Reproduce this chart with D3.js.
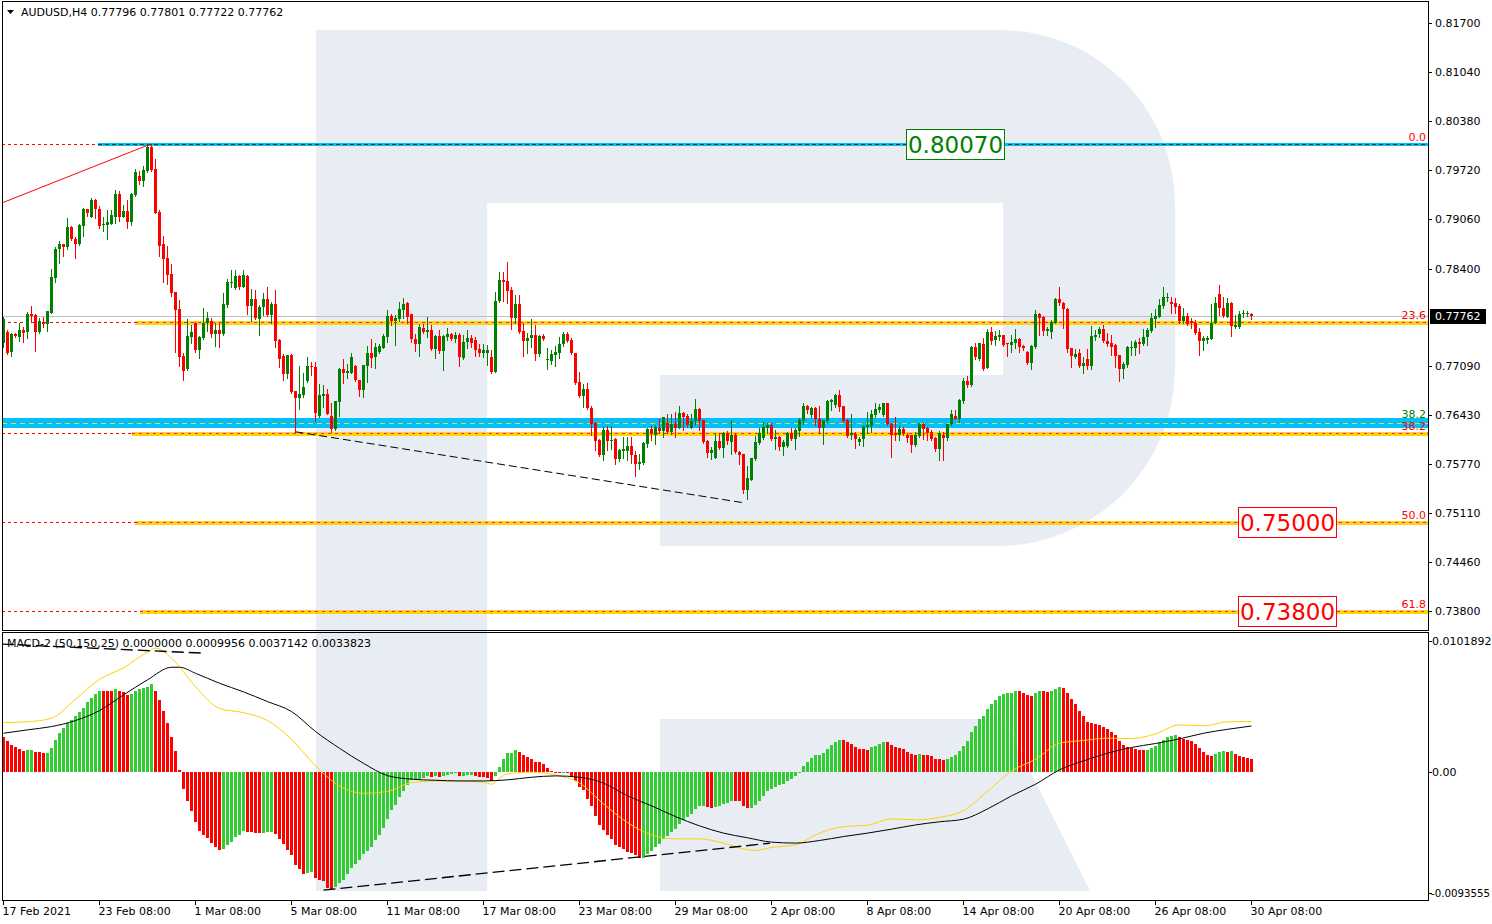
<!DOCTYPE html>
<html><head><meta charset="utf-8">
<script src="https://cdn.jsdelivr.net/npm/d3@7/dist/d3.min.js"></script>
<style>
html,body{margin:0;padding:0;background:#fff;}
svg{display:block;}
text{font-family:"DejaVu Sans",Verdana,sans-serif;}
</style></head>
<body><svg id="chart" width="1492" height="924"></svg>
<script>
// ---------------- DATA ----------------
const symbolTitle = "AUDUSD,H4  0.77796 0.77801 0.77722 0.77762";
const macdTitle = "MACD-2 (50,150,25) 0.0000000 0.0009956 0.0037142 0.0033823";

const opens = [
0.77395,0.77552,0.77283,0.77520,0.77484,0.77574,0.77543,0.77789,0.77776,0.77552,
0.77682,0.77659,0.77807,0.78277,0.78658,0.78730,0.78694,0.78958,0.78797,0.78734,
0.78976,0.79200,0.79097,0.79321,0.79200,0.78981,0.78990,0.79003,0.79093,0.79402,
0.79097,0.79173,0.79026,0.79393,0.79639,0.79577,0.79715,0.80029,0.79738,0.79160,
0.78730,0.78542,0.78327,0.78085,0.77856,0.77225,0.77054,0.77484,0.77673,0.77305,
0.77462,0.77664,0.77700,0.77520,0.77574,0.77520,0.77906,0.78206,0.78143,0.78304,
0.78156,0.78304,0.77897,0.77995,0.77726,0.77879,0.77991,0.77776,0.77923,0.77440,
0.77225,0.76987,0.77234,0.76754,0.76665,0.76700,0.76893,0.77090,0.77077,0.76418,
0.76691,0.76709,0.76418,0.76243,0.76606,0.77045,0.76991,0.77004,0.77090,0.76901,
0.76767,0.77094,0.77260,0.77206,0.77280,0.77336,0.77484,0.77762,0.77699,0.77717,
0.77842,0.77932,0.77788,0.77461,0.77385,0.77596,0.77542,0.77582,0.77318,0.77493,
0.77291,0.77480,0.77515,0.77461,0.77506,0.77193,0.77408,0.77470,0.77439,0.77318,
0.77269,0.77265,0.77215,0.77013,0.77963,0.78245,0.78232,0.78111,0.77739,0.77918,
0.77560,0.77430,0.77470,0.77506,0.77251,0.77493,0.77166,0.77161,0.77238,0.77269,
0.77385,0.77515,0.77439,0.77260,0.76879,0.76686,0.76776,0.76521,0.76328,0.76104,
0.75893,0.76230,0.76082,0.76117,0.75840,0.75952,0.75952,0.76014,0.75900,0.75772,
0.75790,0.76041,0.76243,0.76162,0.76265,0.76221,0.76328,0.76207,0.76310,0.76265,
0.76462,0.76418,0.76265,0.76355,0.76512,0.76364,0.76082,0.75925,0.75862,0.76082,
0.75996,0.76198,0.76073,0.76162,0.75938,0.75907,0.75423,0.75566,0.75840,0.76059,
0.76126,0.76265,0.76297,0.76108,0.76140,0.76005,0.76019,0.76198,0.76108,0.76221,
0.76355,0.76552,0.76431,0.76534,0.76386,0.76265,0.76355,0.76606,0.76565,0.76700,
0.76552,0.76364,0.76162,0.76176,0.76073,0.76108,0.76274,0.76283,0.76431,0.76507,
0.76431,0.76597,0.76319,0.76185,0.76162,0.76243,0.76162,0.76162,0.76028,0.76149,
0.76319,0.76265,0.76207,0.76126,0.75970,0.76171,0.76118,0.76310,0.76422,0.76377,
0.76619,0.76888,0.76834,0.77341,0.77179,0.77385,0.77067,0.77551,0.77439,0.77484,
0.77506,0.77394,0.77372,0.77403,0.77453,0.77359,0.77282,0.77135,0.77350,0.77789,
0.77753,0.77560,0.77551,0.77672,0.77986,0.77941,0.77851,0.77327,0.77215,0.77260,
0.77094,0.77179,0.77094,0.77484,0.77520,0.77583,0.77426,0.77403,0.77372,0.77238,
0.77045,0.77103,0.77336,0.77327,0.77417,0.77385,0.77475,0.77560,0.77717,0.77753,
0.77896,0.78008,0.77954,0.77941,0.77896,0.77699,0.77762,0.77699,0.77672,0.77551,
0.77430,0.77440,0.77453,0.77672,0.78057,0.77865,0.77753,0.77941,0.77618,0.77618,
0.77790,0.77798,0.77796];

const highs = [
0.77753,0.77574,0.77530,0.77538,0.77664,0.77619,0.77821,0.77897,0.77794,0.77740,
0.77753,0.77835,0.78394,0.78685,0.78770,0.78735,0.79079,0.78976,0.78820,0.78999,
0.79218,0.79205,0.79344,0.79330,0.79236,0.79097,0.79187,0.79187,0.79451,0.79442,
0.79258,0.79317,0.79415,0.79738,0.79706,0.79783,0.80060,0.80070,0.79868,0.79187,
0.78837,0.78703,0.78457,0.78090,0.77977,0.77260,0.77722,0.77641,0.77686,0.77498,
0.77870,0.77816,0.77731,0.77673,0.77673,0.78067,0.78255,0.78380,0.78380,0.78313,
0.78380,0.78310,0.78121,0.78112,0.77910,0.78067,0.78156,0.77955,0.78112,0.77448,
0.77247,0.77240,0.77247,0.76760,0.77090,0.77001,0.77216,0.77149,0.77149,0.76848,
0.76843,0.76776,0.76597,0.76625,0.77067,0.77184,0.77116,0.77260,0.77100,0.76910,
0.77110,0.77358,0.77448,0.77394,0.77390,0.77515,0.77842,0.77788,0.77775,0.77954,
0.77999,0.77945,0.77790,0.77515,0.77650,0.77654,0.77753,0.77641,0.77506,0.77582,
0.77506,0.77596,0.77538,0.77551,0.77529,0.77506,0.77573,0.77506,0.77484,0.77381,
0.77381,0.77370,0.77305,0.78089,0.78348,0.78357,0.78483,0.78156,0.78044,0.78044,
0.77663,0.77538,0.77717,0.77641,0.77506,0.77520,0.77340,0.77305,0.77358,0.77475,
0.77542,0.77542,0.77470,0.77265,0.77013,0.76848,0.76857,0.76552,0.76341,0.76110,
0.76274,0.76283,0.76280,0.76120,0.75983,0.76140,0.76140,0.76140,0.75945,0.75916,
0.76073,0.76252,0.76283,0.76297,0.76377,0.76409,0.76445,0.76445,0.76467,0.76552,
0.76476,0.76453,0.76453,0.76646,0.76521,0.76370,0.76095,0.76005,0.76185,0.76185,
0.76207,0.76216,0.76364,0.76194,0.75944,0.75916,0.75746,0.75862,0.76149,0.76252,
0.76341,0.76328,0.76328,0.76230,0.76145,0.76095,0.76203,0.76252,0.76265,0.76395,
0.76597,0.76565,0.76543,0.76543,0.76552,0.76365,0.76633,0.76655,0.76722,0.76767,
0.76560,0.76373,0.76453,0.76207,0.76140,0.76297,0.76476,0.76498,0.76601,0.76579,
0.76601,0.76600,0.76328,0.76409,0.76297,0.76274,0.76194,0.76165,0.76207,0.76328,
0.76328,0.76274,0.76230,0.76140,0.76216,0.76207,0.76319,0.76498,0.76498,0.76642,
0.76937,0.76955,0.77359,0.77403,0.77403,0.77462,0.77583,0.77609,0.77565,0.77574,
0.77510,0.77403,0.77506,0.77583,0.77462,0.77372,0.77291,0.77372,0.77842,0.77807,
0.77758,0.77609,0.77708,0.77999,0.78156,0.77954,0.77865,0.77330,0.77314,0.77314,
0.77206,0.77314,0.77627,0.77574,0.77618,0.77641,0.77538,0.77506,0.77385,0.77240,
0.77148,0.77359,0.77430,0.77439,0.77462,0.77583,0.77596,0.77807,0.77851,0.77986,
0.78156,0.78066,0.78022,0.77999,0.77919,0.77865,0.77807,0.77730,0.77708,0.77596,
0.77493,0.77493,0.77923,0.78013,0.78178,0.78022,0.78008,0.77954,0.77775,0.77833,
0.77842,0.77830,0.77801];

const lows = [
0.77350,0.77251,0.77229,0.77484,0.77431,0.77408,0.77462,0.77686,0.77296,0.77529,
0.77619,0.77565,0.77800,0.78224,0.78479,0.78569,0.78658,0.78784,0.78546,0.78716,
0.78837,0.79106,0.79088,0.79079,0.78940,0.78905,0.78802,0.78994,0.79012,0.79034,
0.79088,0.78949,0.78990,0.79375,0.79536,0.79514,0.79693,0.79715,0.79145,0.78573,
0.78224,0.78192,0.78035,0.77283,0.77090,0.76902,0.77040,0.77395,0.77283,0.77193,
0.77450,0.77565,0.77484,0.77363,0.77341,0.77510,0.77888,0.78156,0.78121,0.78121,
0.78150,0.77789,0.77700,0.77726,0.77507,0.77776,0.77770,0.77664,0.77350,0.77081,
0.76902,0.76924,0.76732,0.76208,0.76508,0.76678,0.76880,0.76969,0.76351,0.76408,
0.76543,0.76444,0.76207,0.76235,0.76422,0.76857,0.76924,0.77000,0.76890,0.76686,
0.76677,0.76879,0.77081,0.77067,0.77260,0.77327,0.77417,0.77641,0.77372,0.77699,
0.77730,0.77663,0.77417,0.77296,0.77224,0.77529,0.77484,0.77310,0.77202,0.77269,
0.77036,0.77439,0.77439,0.77417,0.77090,0.77180,0.77327,0.77350,0.77224,0.77224,
0.77206,0.77110,0.76991,0.77005,0.77950,0.77963,0.77941,0.77587,0.77663,0.77540,
0.77228,0.77269,0.77350,0.77170,0.77228,0.77440,0.77045,0.77112,0.77090,0.77193,
0.77358,0.77417,0.77247,0.76848,0.76677,0.76543,0.76510,0.76162,0.75961,0.75880,
0.75826,0.75961,0.75980,0.75781,0.75817,0.75850,0.75826,0.75790,0.75616,0.75705,
0.75781,0.76005,0.76104,0.76050,0.76185,0.76140,0.76194,0.76176,0.76140,0.76252,
0.76230,0.76274,0.76252,0.76297,0.76230,0.76059,0.75871,0.75840,0.75850,0.75970,
0.75871,0.76050,0.75916,0.75929,0.75781,0.75392,0.75302,0.75557,0.75826,0.76050,
0.76117,0.76185,0.76100,0.75974,0.75961,0.75893,0.76005,0.76095,0.75974,0.76153,
0.76310,0.76462,0.76409,0.76297,0.76185,0.76050,0.76341,0.76498,0.76543,0.76490,
0.76341,0.76139,0.76108,0.75992,0.76028,0.76019,0.76185,0.76207,0.76409,0.76467,
0.76422,0.76297,0.75871,0.76095,0.76104,0.76162,0.76073,0.75938,0.76019,0.76140,
0.76108,0.76095,0.76095,0.75952,0.75835,0.75826,0.76095,0.76297,0.76373,0.76342,
0.76597,0.76803,0.76821,0.77179,0.77170,0.77036,0.77060,0.77385,0.77372,0.77439,
0.77359,0.77224,0.77282,0.77327,0.77282,0.77305,0.77112,0.77054,0.77340,0.77506,
0.77506,0.77506,0.77471,0.77663,0.77910,0.77596,0.77282,0.77081,0.77193,0.77081,
0.76991,0.77045,0.77058,0.77439,0.77484,0.77417,0.77359,0.77238,0.77081,0.76893,
0.76924,0.77072,0.77238,0.77238,0.77260,0.77372,0.77372,0.77551,0.77610,0.77750,
0.77865,0.77968,0.77798,0.77798,0.77672,0.77672,0.77641,0.77596,0.77520,0.77238,
0.77305,0.77394,0.77450,0.77663,0.77775,0.77753,0.77750,0.77493,0.77596,0.77596,
0.77750,0.77760,0.77722];

const closes = [
0.77722,0.77269,0.77520,0.77498,0.77574,0.77538,0.77789,0.77767,0.77552,0.77695,
0.77659,0.77825,0.78291,0.78667,0.78730,0.78685,0.78958,0.78793,0.78734,0.78985,
0.79200,0.79151,0.79321,0.79196,0.78976,0.79003,0.79026,0.79120,0.79402,0.79097,
0.79173,0.79030,0.79402,0.79693,0.79577,0.79724,0.80029,0.79724,0.79151,0.78703,
0.78528,0.78318,0.78076,0.77843,0.77216,0.77027,0.77493,0.77552,0.77305,0.77484,
0.77673,0.77731,0.77520,0.77574,0.77520,0.77923,0.78219,0.78219,0.78304,0.78156,
0.78313,0.77897,0.77995,0.77740,0.77883,0.77991,0.77776,0.77923,0.77431,0.77189,
0.76987,0.77234,0.76745,0.76665,0.76709,0.76803,0.77090,0.77072,0.76463,0.76700,
0.76709,0.76453,0.76243,0.76619,0.77054,0.76991,0.77022,0.77206,0.76901,0.76767,
0.77103,0.77260,0.77193,0.77349,0.77355,0.77497,0.77762,0.77699,0.77730,0.77856,
0.77923,0.77753,0.77453,0.77385,0.77610,0.77542,0.77582,0.77318,0.77493,0.77291,
0.77493,0.77515,0.77461,0.77506,0.77206,0.77417,0.77470,0.77394,0.77305,0.77269,
0.77305,0.77305,0.77013,0.77963,0.78245,0.78214,0.78098,0.77739,0.77918,0.77551,
0.77430,0.77470,0.77506,0.77251,0.77493,0.77448,0.77179,0.77247,0.77282,0.77385,
0.77515,0.77430,0.77260,0.76866,0.76686,0.76776,0.76521,0.76319,0.76086,0.75893,
0.76230,0.76082,0.76104,0.75840,0.75961,0.75974,0.76014,0.75900,0.75772,0.75804,
0.76059,0.76243,0.76176,0.76274,0.76221,0.76400,0.76207,0.76310,0.76265,0.76462,
0.76409,0.76297,0.76355,0.76512,0.76355,0.76073,0.75925,0.75961,0.76082,0.75996,
0.76198,0.76086,0.76162,0.75938,0.75893,0.75423,0.75589,0.75849,0.76073,0.76185,
0.76274,0.76297,0.76108,0.76140,0.76005,0.76064,0.76198,0.76108,0.76229,0.76364,
0.76552,0.76498,0.76534,0.76377,0.76265,0.76364,0.76619,0.76633,0.76700,0.76543,
0.76355,0.76153,0.76185,0.76108,0.76117,0.76283,0.76297,0.76444,0.76512,0.76543,
0.76597,0.76310,0.76162,0.76162,0.76243,0.76176,0.76131,0.76028,0.76162,0.76319,
0.76239,0.76194,0.76108,0.75974,0.76198,0.76118,0.76310,0.76445,0.76377,0.76633,
0.76888,0.76834,0.77350,0.77215,0.77394,0.77049,0.77551,0.77426,0.77493,0.77506,
0.77372,0.77381,0.77417,0.77453,0.77350,0.77327,0.77135,0.77359,0.77789,0.77739,
0.77560,0.77583,0.77686,0.77986,0.77932,0.77851,0.77314,0.77224,0.77251,0.77094,
0.77135,0.77094,0.77493,0.77506,0.77583,0.77426,0.77385,0.77350,0.77224,0.77058,
0.77117,0.77350,0.77350,0.77417,0.77385,0.77475,0.77574,0.77739,0.77762,0.77910,
0.78022,0.78022,0.77923,0.77887,0.77699,0.77762,0.77654,0.77663,0.77538,0.77430,
0.77462,0.77462,0.77672,0.77932,0.77865,0.77762,0.77941,0.77627,0.77641,0.77789,
0.77798,0.77805,0.77762];

// MACD-2 histogram (one value per bar)
const macdHist = [
0.00256,0.00229,0.00197,0.00185,0.00170,0.00158,0.00161,0.00162,0.00147,0.00145,
0.00142,0.00143,0.00176,0.00237,0.00290,0.00327,0.00358,0.00383,0.00410,0.00442,
0.00471,0.00515,0.00544,0.00576,0.00597,0.00593,0.00592,0.00591,0.00607,0.00597,
0.00585,0.00568,0.00571,0.00591,0.00607,0.00615,0.00627,0.00644,0.00597,0.00527,
0.00449,0.00358,0.00256,0.00156,0.00015,-0.00122,-0.00210,-0.00283,-0.00361,-0.00427,
-0.00459,-0.00483,-0.00519,-0.00551,-0.00568,-0.00563,-0.00534,-0.00512,-0.00474,-0.00463,
-0.00431,-0.00436,-0.00437,-0.00446,-0.00447,-0.00442,-0.00436,-0.00435,-0.00456,-0.00488,
-0.00524,-0.00568,-0.00607,-0.00678,-0.00712,-0.00744,-0.00739,-0.00734,-0.00776,-0.00790,
-0.00795,-0.00849,-0.00852,-0.00844,-0.00812,-0.00788,-0.00744,-0.00703,-0.00671,-0.00641,
-0.00597,-0.00580,-0.00544,-0.00500,-0.00459,-0.00405,-0.00344,-0.00275,-0.00239,-0.00178,
-0.00141,-0.00093,-0.00056,-0.00049,-0.00047,-0.00039,-0.00027,-0.00037,-0.00027,-0.00037,
-0.00027,-0.00020,-0.00015,-0.00009,-0.00027,-0.00026,-0.00022,-0.00020,-0.00027,-0.00032,
-0.00037,-0.00044,-0.00068,-0.00027,0.00041,0.00097,0.00139,0.00140,0.00161,0.00146,
0.00127,0.00114,0.00097,0.00073,0.00072,0.00059,0.00029,0.00009,-0.00005,-0.00007,
-0.00006,-0.00008,-0.00032,-0.00068,-0.00105,-0.00129,-0.00195,-0.00251,-0.00319,-0.00386,
-0.00422,-0.00459,-0.00490,-0.00532,-0.00544,-0.00559,-0.00583,-0.00592,-0.00609,-0.00630,
-0.00627,-0.00597,-0.00580,-0.00548,-0.00524,-0.00488,-0.00466,-0.00439,-0.00415,-0.00378,
-0.00349,-0.00325,-0.00307,-0.00271,-0.00246,-0.00245,-0.00256,-0.00263,-0.00256,-0.00251,
-0.00234,-0.00227,-0.00210,-0.00211,-0.00212,-0.00246,-0.00263,-0.00261,-0.00239,-0.00210,
-0.00173,-0.00141,-0.00122,-0.00105,-0.00093,-0.00085,-0.00064,-0.00049,-0.00027,0.00005,
0.00047,0.00076,0.00102,0.00124,0.00125,0.00139,0.00168,0.00197,0.00220,0.00234,
0.00233,0.00219,0.00205,0.00183,0.00168,0.00167,0.00166,0.00183,0.00190,0.00205,
0.00220,0.00219,0.00197,0.00183,0.00176,0.00168,0.00146,0.00132,0.00124,0.00132,
0.00124,0.00123,0.00117,0.00095,0.00094,0.00088,0.00095,0.00110,0.00124,0.00154,
0.00193,0.00227,0.00293,0.00337,0.00388,0.00412,0.00461,0.00500,0.00527,0.00561,
0.00573,0.00578,0.00583,0.00592,0.00591,0.00578,0.00563,0.00556,0.00578,0.00592,
0.00591,0.00590,0.00593,0.00607,0.00622,0.00615,0.00578,0.00534,0.00498,0.00446,
0.00410,0.00371,0.00358,0.00354,0.00346,0.00334,0.00314,0.00293,0.00271,0.00227,
0.00197,0.00183,0.00176,0.00168,0.00161,0.00160,0.00162,0.00176,0.00190,0.00212,
0.00234,0.00256,0.00263,0.00271,0.00254,0.00246,0.00234,0.00227,0.00205,0.00176,
0.00146,0.00124,0.00117,0.00132,0.00146,0.00154,0.00146,0.00154,0.00132,0.00117,
0.00110,0.00102,0.0009956];

// MACD-2 lines (sampled bars)
const yellowIdx = [0,6,12,18,24,30,36,38,42,48,54,60,66,72,78,84,90,96,102,108,114,120,122,124,126,132,138,144,150,156,162,168,174,180,186,188,192,198,204,210,216,222,228,234,240,246,252,258,264,270,276,282,288,294,300,306,312];
const yellowVal = [0.00363,0.00369,0.00395,0.00534,0.00680,0.00764,0.00880,0.00908,0.00834,0.00627,0.00466,0.00436,0.00378,0.00241,0.00047,-0.00100,-0.00154,-0.00141,-0.00076,-0.00064,-0.00064,-0.00073,-0.00088,-0.00044,-0.00012,0.00000,-0.00020,-0.00080,-0.00232,-0.00369,-0.00459,-0.00488,-0.00488,-0.00519,-0.00568,-0.00573,-0.00551,-0.00532,-0.00446,-0.00398,-0.00388,-0.00342,-0.00349,-0.00331,-0.00281,-0.00141,0.00009,0.00095,0.00212,0.00232,0.00249,0.00246,0.00281,0.00346,0.00339,0.00369,0.0037142];
const blackIdx = [0,6,12,18,24,30,36,42,44,48,54,60,66,72,78,84,90,96,102,108,114,120,126,132,138,144,150,156,162,168,174,180,186,192,198,204,210,216,222,228,234,240,246,252,258,264,270,276,282,288,294,300,306,312];
const blackVal = [0.00285,0.00310,0.00334,0.00378,0.00451,0.00566,0.00676,0.00768,0.00768,0.00724,0.00651,0.00588,0.00517,0.00444,0.00298,0.00175,0.00065,-0.00025,-0.00051,-0.00059,-0.00064,-0.00064,-0.00056,-0.00037,-0.00027,-0.00037,-0.00080,-0.00173,-0.00246,-0.00325,-0.00393,-0.00446,-0.00480,-0.00512,-0.00519,-0.00500,-0.00471,-0.00446,-0.00417,-0.00386,-0.00363,-0.00344,-0.00269,-0.00173,-0.00088,0.00017,0.00083,0.00139,0.00181,0.00210,0.00244,0.00285,0.00314,0.0033823];

// axis labels
const priceTicks = [0.81700,0.81040,0.80380,0.79720,0.79060,0.78400,0.77090,0.76430,0.75770,0.75110,0.74460,0.73800];
const macdTicks = [0.0101892,0.0,-0.0093555];
const macdTickLabels = ["0.0101892","0.00","-0.0093555"];
const timeIdx = [0,24,48,72,96,120,144,168,192,216,240,264,288,312];
const timeLabels = ["17 Feb 2021","23 Feb 08:00","1 Mar 08:00","5 Mar 08:00","11 Mar 08:00","17 Mar 08:00","23 Mar 08:00","29 Mar 08:00","2 Apr 08:00","8 Apr 08:00","14 Apr 08:00","20 Apr 08:00","26 Apr 08:00","30 Apr 08:00"];

// objects
const bidPrice = 0.77762;
const fibPrices = [0.80070,0.77677,0.76197,0.75000,0.73804];
const fibNames = ["0.0","23.6","38.2","50.0","61.8"];
const fib2Price = 0.76326, fib2Name = "38.2";
const targetLabels = ["0.80070","0.75000","0.73800"];
const targetPrices = [0.80070,0.75000,0.73800];
const redTrend = [[-0.4,0.79282],[36.6,0.80070]];
const blackTrend = [[73,0.76208],[185.4,0.75251]];
const macdTrend1 = [[-0.4,0.00937],[50.4,0.00871]];
const macdTrend2 = [[80,-0.00864],[191.6,-0.00520]];

// ---------------- DRAW ----------------
const svg = d3.select('#chart');
const N = closes.length;
const x = d3.scaleLinear().domain([0,312]).range([3.5,1251.5]);
const y = d3.scaleLinear().domain([0.738,0.817]).range([611,23]);
const ym = d3.scaleLinear().domain([-0.0093555,0.0101892]).range([900,633]);
const L=2, R=1428;

const defs = svg.append('defs');
defs.append('clipPath').attr('id','cm').append('rect').attr('x',L).attr('y',2).attr('width',R-L).attr('height',628);
defs.append('clipPath').attr('id','cd').append('rect').attr('x',L).attr('y',633).attr('width',R-L).attr('height',267);

svg.append('rect').attr('width',1492).attr('height',924).attr('fill','#fff');

// watermark logo
const logo = svg.append('g').attr('fill','#e8edf4');
logo.append('path').attr('d','M316,30 H1000 A175,175 0 0 1 1175,205 V371 A178,178 0 0 1 1000,546 H660 V375 H1003 V203 H487 V891 H316 Z');
logo.append('path').attr('d','M660,719 H1004 L1090,891 H660 Z');

// ---- main panel objects
const gm = svg.append('g').attr('clip-path','url(#cm)');
// bid line
gm.append('line').attr('x1',L).attr('x2',R).attr('y1',Math.round(y(bidPrice))+0.5).attr('y2',Math.round(y(bidPrice))+0.5).attr('stroke','#c0c0c0');
// fib levels
const fibStart = [98,135,132,135,140];
fibPrices.forEach((p,k)=>{
  const yy = Math.round(y(p))+0.5;
  gm.append('line').attr('x1',L).attr('x2',fibStart[k]).attr('y1',yy).attr('y2',yy).attr('stroke','#ff0000').attr('stroke-dasharray','3,3');
  if(k===0){
    gm.append('line').attr('x1',fibStart[k]).attr('x2',R).attr('y1',yy).attr('y2',yy).attr('stroke','#00bfff').attr('stroke-width',3);
    gm.append('line').attr('x1',fibStart[k]).attr('x2',R).attr('y1',yy).attr('y2',yy).attr('stroke','#1a3a2a').attr('stroke-dasharray','4,3');
  } else {
    gm.append('rect').attr('x',fibStart[k]).attr('width',R-fibStart[k]).attr('y',yy-2).attr('height',4).attr('fill','#ffd700').attr('shape-rendering','crispEdges');
    gm.append('line').attr('x1',fibStart[k]).attr('x2',R).attr('y1',yy).attr('y2',yy).attr('stroke','#ff00ff').attr('stroke-dasharray','3,4').attr('shape-rendering','crispEdges');
  }
});
// second fib level (blue band)
{
  const yy = y(fib2Price);
  gm.append('rect').attr('x',L).attr('width',R-L).attr('y',Math.round(yy)-5).attr('height',10).attr('fill','#00bfff');
  gm.append('line').attr('x1',L).attr('x2',R).attr('y1',Math.round(yy)+0.5).attr('y2',Math.round(yy)+0.5).attr('stroke','#ffd700').attr('stroke-dasharray','5,4');
}
// trend lines
gm.append('line').attr('x1',x(redTrend[0][0])).attr('y1',y(redTrend[0][1])).attr('x2',x(redTrend[1][0])).attr('y2',y(redTrend[1][1])).attr('stroke','#ff0000').attr('stroke-width',1);
gm.append('line').attr('x1',x(blackTrend[0][0])).attr('y1',y(blackTrend[0][1])).attr('x2',x(blackTrend[1][0])).attr('y2',y(blackTrend[1][1])).attr('stroke','#000').attr('stroke-dasharray','8,4');

// candles
const idx = d3.range(N);
const cg = gm.append('g').attr('shape-rendering','crispEdges');
cg.selectAll('line.w').data(idx).join('line').attr('class','w')
  .attr('x1',i=>x(i)).attr('x2',i=>x(i))
  .attr('y1',i=>Math.round(y(highs[i]))).attr('y2',i=>Math.round(y(lows[i]))+1)
  .attr('stroke',i=>closes[i]>=opens[i]?'#008000':'#ff0000');
cg.selectAll('rect.b').data(idx).join('rect').attr('class','b')
  .attr('x',i=>x(i)-1.5).attr('width',3)
  .attr('y',i=>Math.round(y(Math.max(opens[i],closes[i]))))
  .attr('height',i=>Math.max(1,Math.round(y(Math.min(opens[i],closes[i])))-Math.round(y(Math.max(opens[i],closes[i])))))
  .attr('fill',i=>closes[i]>=opens[i]?'#008000':'#ff0000');

// ---- MACD panel
const gd = svg.append('g').attr('clip-path','url(#cd)');
const hg = gd.append('g').attr('shape-rendering','crispEdges');
const z0 = Math.round(ym(0));
hg.selectAll('rect').data(idx).join('rect')
  .attr('x',i=>x(i)-1.5).attr('width',3)
  .attr('y',i=>macdHist[i]>=0?Math.round(ym(macdHist[i])):z0)
  .attr('height',i=>Math.max(1,Math.abs(z0-Math.round(ym(macdHist[i])))))
  .attr('fill',i=>(i>0 && macdHist[i]>macdHist[i-1])?'#32cd32':'#ff0000');
const lineGen = (ix,vals)=>d3.line().x((d,k)=>x(ix[k])).y(d=>ym(d)).curve(d3.curveMonotoneX)(vals);
gd.append('path').attr('d',lineGen(yellowIdx,yellowVal)).attr('fill','none').attr('stroke','#ffd000').attr('stroke-width',1);
gd.append('path').attr('d',lineGen(blackIdx,blackVal)).attr('fill','none').attr('stroke','#000').attr('stroke-width',1);
[macdTrend1,macdTrend2].forEach(t=>{
  gd.append('line').attr('x1',x(t[0][0])).attr('y1',ym(t[0][1])).attr('x2',x(t[1][0])).attr('y2',ym(t[1][1])).attr('stroke','#000').attr('stroke-width',1.3).attr('stroke-dasharray','12,5');
});

// ---- frames
svg.append('rect').attr('x',L+0.5).attr('y',1.5).attr('width',R-L).attr('height',629).attr('fill','none').attr('stroke','#000');
svg.append('rect').attr('x',L+0.5).attr('y',632.5).attr('width',R-L).attr('height',268).attr('fill','none').attr('stroke','#000');

// ---- price axis
const ax = svg.append('g');
priceTicks.forEach(p=>{
  const yy=Math.round(y(p))+0.5;
  ax.append('line').attr('x1',R).attr('x2',R+4).attr('y1',yy).attr('y2',yy).attr('stroke','#000');
  ax.append('text').attr('x',1435).attr('y',yy).attr('dy','0.36em').attr('font-size',11).attr('fill','#000').text(p.toFixed(5));
});
{
  const yy=Math.round(y(bidPrice));
  ax.append('rect').attr('x',1430).attr('y',yy-7).attr('width',56).attr('height',15).attr('fill','#000');
  ax.append('text').attr('x',1435).attr('y',yy+0.5).attr('dy','0.36em').attr('font-size',11).attr('fill','#fff').text(bidPrice.toFixed(5));
}
// macd axis
macdTicks.forEach((v,k)=>{
  const yy = k===0?641:(k===2?893:Math.round(ym(v)));
  ax.append('line').attr('x1',R).attr('x2',R+4).attr('y1',yy+0.5).attr('y2',yy+0.5).attr('stroke','#000');
  const t = ax.append('text').attr('x',1432).attr('y',yy).attr('dy','0.36em').attr('font-size',11).attr('fill','#000').text(macdTickLabels[k]);
  if(k===2) t.attr('x',1431).attr('font-size',10).attr('textLength',59).attr('lengthAdjust','spacingAndGlyphs');
});
// time axis
timeIdx.forEach((i,k)=>{
  ax.append('line').attr('x1',x(i)).attr('x2',x(i)).attr('y1',900).attr('y2',905).attr('stroke','#000');
  ax.append('text').attr('x',x(i)-1).attr('y',915).attr('font-size',11).attr('fill','#000').text(timeLabels[k]);
});

// ---- fib labels
fibPrices.forEach((p,k)=>{
  svg.append('text').attr('x',1426).attr('y',Math.round(y(p))-3).attr('text-anchor','end').attr('font-size',11).attr('fill','#ff0000').text(fibNames[k]);
});
svg.append('text').attr('x',1426).attr('y',Math.round(y(fib2Price))-5).attr('text-anchor','end').attr('font-size',11).attr('fill','#008000').text(fib2Name);

// ---- target labels
const tBoxX = [906,1238,1238];
targetPrices.forEach((p,k)=>{
  const yy=Math.round(y(p));
  const col = k===0?'#008000':'#ff0000';
  svg.append('rect').attr('x',tBoxX[k]+0.5).attr('y',yy-14.5).attr('width',98).attr('height',30).attr('fill','#fff').attr('stroke',col);
  svg.append('text').attr('x',tBoxX[k]+49.5).attr('y',yy+1).attr('dy','0.36em').attr('text-anchor','middle').attr('font-size',23).attr('fill',col).text(targetLabels[k]);
});

// ---- titles
svg.append('path').attr('d','M7,10 L14,10 L10.5,14 Z').attr('fill','#000');
svg.append('text').attr('x',21).attr('y',16).attr('font-size',11).attr('fill','#000').text(symbolTitle);
svg.append('text').attr('x',7).attr('y',647).attr('font-size',11).attr('fill','#000').text(macdTitle);
</script></body></html>
